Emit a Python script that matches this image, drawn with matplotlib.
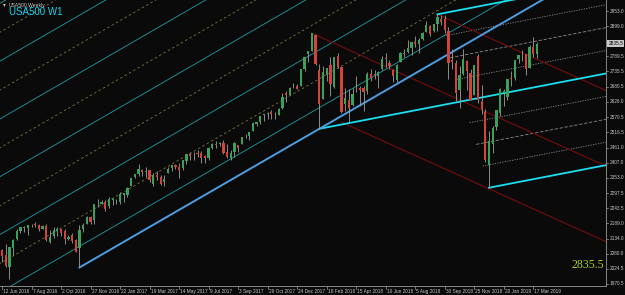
import numpy as np
import matplotlib
matplotlib.use("Agg")
import matplotlib.pyplot as plt
import matplotlib.transforms as mtransforms

# USA500 weekly bars, first bar = week of 12 Jun 2016
opens = [2092, 2075, 2030, 2100, 2131, 2162, 2173, 2173, 2183, 2186, 2183, 2170, 2180, 2120, 2143, 2163,
         2169, 2160, 2134, 2146, 2129, 2100, 2168, 2186, 2210, 2200, 2260, 2260, 2266,
         2251, 2273, 2272, 2267, 2290, 2292, 2322, 2354, 2367, 2381, 2372, 2379, 2330, 2363, 2357, 2339,
         2370, 2389, 2397, 2393, 2387, 2414, 2437, 2434, 2441, 2442, 2431, 2424, 2460, 2473, 2475, 2478,
         2444, 2425, 2447, 2470, 2475, 2502, 2503, 2521, 2548, 2555, 2578, 2583, 2588, 2580, 2580, 2603,
         2657, 2652, 2684, 2684,
         2683, 2745, 2799, 2809, 2867, 2741, 2637, 2722, 2757, 2681, 2790, 2750, 2619, 2633, 2614, 2670,
         2675, 2675, 2665, 2727, 2725, 2720, 2743, 2783, 2766, 2742, 2704, 2769, 2798, 2804, 2819, 2840,
         2835, 2853, 2876, 2898, 2880, 2906, 2925, 2926, 2882, 2775, 2767, 2670, 2726, 2773, 2730, 2650,
         2790, 2630, 2591, 2400,
         2476, 2535, 2585, 2657, 2644, 2712, 2712, 2780, 2805, 2797, 2749, 2825, 2800]
highs = [2095, 2113, 2104, 2132, 2169, 2176, 2178, 2183, 2188, 2194, 2187, 2183, 2187, 2164, 2176, 2175,
         2169, 2169, 2148, 2154, 2131, 2182, 2189, 2214, 2214, 2260, 2278, 2273, 2273,
         2282, 2279, 2277, 2301, 2299, 2319, 2351, 2368, 2401, 2385, 2390, 2382, 2370, 2378, 2361, 2361,
         2392, 2400, 2404, 2406, 2418, 2440, 2446, 2446, 2453, 2450, 2434, 2463, 2478, 2484, 2480, 2490,
         2474, 2454, 2481, 2471, 2500, 2509, 2519, 2552, 2555, 2575, 2582, 2588, 2598, 2591, 2604, 2657,
         2665, 2679, 2695, 2692,
         2743, 2787, 2810, 2873, 2870, 2763, 2755, 2747, 2789, 2787, 2802, 2753, 2675, 2672, 2675, 2718,
         2683, 2682, 2733, 2743, 2742, 2736, 2791, 2801, 2775, 2743, 2764, 2804, 2816, 2848, 2841, 2863,
         2855, 2876, 2916, 2901, 2908, 2941, 2940, 2940, 2894, 2816, 2778, 2756, 2816, 2775, 2746, 2760,
         2800, 2685, 2601, 2520,
         2538, 2597, 2675, 2672, 2709, 2738, 2776, 2795, 2814, 2797, 2830, 2860, 2840]
lows = [2050, 2032, 1988, 2074, 2128, 2155, 2159, 2148, 2175, 2175, 2160, 2167, 2127, 2119, 2137, 2145,
        2142, 2115, 2130, 2119, 2084, 2030, 2156, 2186, 2187, 2187, 2248, 2257, 2234,
        2245, 2254, 2258, 2257, 2267, 2283, 2322, 2352, 2358, 2359, 2356, 2337, 2322, 2344, 2328, 2322,
        2370, 2378, 2386, 2353, 2382, 2403, 2416, 2415, 2428, 2405, 2407, 2418, 2458, 2459, 2467, 2437,
        2424, 2417, 2429, 2446, 2475, 2496, 2488, 2520, 2540, 2547, 2557, 2566, 2566, 2566, 2577, 2601,
        2624, 2651, 2675, 2673,
        2683, 2737, 2768, 2808, 2759, 2529, 2635, 2700, 2648, 2675, 2749, 2585, 2594, 2553, 2610, 2660,
        2612, 2594, 2655, 2701, 2707, 2676, 2740, 2752, 2743, 2698, 2698, 2769, 2789, 2802, 2795, 2824,
        2802, 2848, 2876, 2864, 2876, 2880, 2903, 2874, 2710, 2744, 2628, 2603, 2721, 2670, 2631, 2649,
        2621, 2583, 2410, 2317,
        2443, 2525, 2574, 2612, 2631, 2682, 2704, 2766, 2774, 2722, 2748, 2786, 2785]
closes = [2071, 2037, 2103, 2130, 2162, 2175, 2174, 2183, 2184, 2184, 2169, 2180, 2128, 2139, 2165, 2168,
          2153, 2133, 2141, 2126, 2085, 2164, 2182, 2213, 2192, 2260, 2258, 2264, 2239,
          2277, 2275, 2272, 2295, 2297, 2316, 2351, 2367, 2383, 2373, 2378, 2344, 2363, 2355, 2329, 2349,
          2384, 2399, 2391, 2382, 2416, 2439, 2432, 2433, 2438, 2423, 2425, 2459, 2473, 2472, 2477, 2441,
          2426, 2443, 2477, 2461, 2500, 2502, 2519, 2549, 2553, 2575, 2581, 2587, 2582, 2578, 2602, 2642,
          2651, 2675, 2683, 2674,
          2743, 2786, 2810, 2873, 2762, 2620, 2732, 2747, 2691, 2786, 2752, 2588, 2641, 2604, 2656, 2670,
          2670, 2663, 2728, 2712, 2721, 2735, 2779, 2780, 2755, 2718, 2760, 2801, 2802, 2819, 2840, 2833,
          2850, 2875, 2902, 2872, 2905, 2930, 2914, 2886, 2767, 2768, 2659, 2723, 2781, 2736, 2633, 2760,
          2633, 2600, 2417, 2486,
          2532, 2596, 2671, 2665, 2707, 2708, 2776, 2793, 2804, 2743, 2822, 2800, 2835.5]

date_labels = ['12 Jun 2016', '7 Aug 2016', '2 Oct 2016', '27 Nov 2016', '22 Jan 2017', '19 Mar 2017',
               '14 May 2017', '9 Jul 2017', '3 Sep 2017', '29 Oct 2017', '24 Dec 2017', '18 Feb 2018',
               '15 Apr 2018', '10 Jun 2018', '5 Aug 2018', '30 Sep 2018', '25 Nov 2018', '20 Jan 2019',
               '17 Mar 2019']
price_ticks = [2953.0, 2899.0, 2789.5, 2735.5, 2680.5, 2626.0, 2570.5, 2516.5, 2461.0, 2407.0,
               2353.0, 2297.5, 2243.5, 2189.0, 2134.0, 2080.0, 2024.5, 1970.5]
last_price = 2835.5

# pivots (bar index, price)
election_low = (21, 2030)
jan18_high = (84, 2873)
feb18_low = (86, 2529)
mar18_low = (92, 2553)
sep18_high = (118, 2941)
dec18_low = (132, 2317)

# older channel: offsets above the blue trend line (price), solid teal / dashed olive
teal_offsets = [76, 284, 492, 700, 908, 1116]
olive_offsets = [180, 388, 596, 804, 1012]

bg = '#0a0a0a'
fig = plt.figure(figsize=(6.25, 2.95), dpi=100, facecolor=bg)
ax = fig.add_axes([0, 9 / 295, 606 / 625, 286 / 295])
ax.set_facecolor(bg)
ax.set_xlim(-0.54, 163.7)
ax.set_ylim(1963.3, 2992.6)
XEND = 170


def ray(p, k, x0=None, **kw):
    x0 = p[0] if x0 is None else x0
    y0 = p[1] + k * (x0 - p[0])
    ax.plot([x0, XEND], [y0, y0 + k * (XEND - x0)], **kw)


def pitchfork(a, b, c, color, lw, levels):
    mx, my = (b[0] + c[0]) / 2, (b[1] + c[1]) / 2
    k = (my - a[1]) / (mx - a[0])
    ray(a, k, color=color, lw=lw, zorder=3)
    ray(b, k, color=color, lw=lw, zorder=3)
    ray(c, k, color=color, lw=lw, zorder=3)
    for f, ls in levels:
        for p in (b, c):
            sx, sy = mx + f * (p[0] - mx), my + f * (p[1] - my)
            ray((sx, sy), k, color='#8a8a8a', lw=0.6, ls=ls, zorder=2)
    return k


# blue trend line (election low -> Feb 2018 low) and the older parallel channel
k_blue = (feb18_low[1] - election_low[1]) / (feb18_low[0] - election_low[0])
xs = np.array([-3, XEND])
for off in teal_offsets:
    ax.plot(xs, election_low[1] + off + k_blue * (xs - election_low[0]), color='#1b9ea4', lw=0.6, zorder=1)
for off in olive_offsets:
    ax.plot(xs, election_low[1] + off + k_blue * (xs - election_low[0]), color='#76763e', lw=0.6,
            ls=(0, (3, 3)), zorder=1)
ray(election_low, k_blue, color='#4d9de0', lw=1.4, zorder=4)

# red (down) pitchfork
pitchfork(jan18_high, sep18_high, mar18_low, '#760c0c', 0.8, [])

# cyan pitchfork with levels
pitchfork(feb18_low, sep18_high, dec18_low, '#19e0f0', 1.3,
          [(0.25, (0, (1.5, 1.5))), (0.5, (0, (4, 2))), (0.75, (0, (1.5, 1.5)))])

# candles
idx = np.arange(len(closes))
o, h, l, c = map(np.array, (opens, highs, lows, closes))
up = c >= o
ax.vlines(idx, l, h, color='#a0a0a0', lw=0.6, zorder=5)
ax.bar(idx[up], (c - o)[up], bottom=o[up], width=0.62, color='#3aa05c', zorder=6)
ax.bar(idx[~up], (o - c)[~up], bottom=c[~up], width=0.62, color='#d0443c', zorder=6)

# axes cosmetics
for s in ax.spines.values():
    s.set_visible(False)
for side in ('right', 'bottom'):
    ax.spines[side].set_visible(True)
    ax.spines[side].set_color('#9a9a9a')
    ax.spines[side].set_linewidth(0.6)
ax.set_xticks([])
ax.set_yticks([])

ty = mtransforms.blended_transform_factory(ax.transAxes, ax.transData)
tx = mtransforms.blended_transform_factory(ax.transData, ax.transAxes)
font = 'Liberation Sans'
for p in price_ticks:
    ax.text(1.006, p, f'{p:.1f}', transform=ty, fontsize=3.4, color='#c8c8c8', va='center',
            ha='left', family=font, clip_on=False)
    ax.plot([1.0, 1.004], [p, p], transform=ty, color='#9a9a9a', lw=0.5, clip_on=False)
ax.text(1.004, last_price, f'{last_price:.1f}', transform=ty, fontsize=3.4, color='#000000',
        va='center', ha='left', family=font, clip_on=False,
        bbox=dict(boxstyle='square,pad=0.25', fc='#c8c8c8', ec='none'))

for j, lab in enumerate(date_labels):
    x = j * 8
    ax.plot([x, x], [0, -0.01], transform=tx, color='#9a9a9a', lw=0.5, clip_on=False)
    ax.text(x + 0.3, -0.01, lab, transform=tx, fontsize=3.4, color='#c8c8c8', va='top', ha='left',
            family=font, clip_on=False)

fig.text(9 / 625, 1 - 5 / 295, 'USA500,Weekly', fontsize=3.6, color='#c8c8c8', va='center',
         ha='left', family=font)
fig.text(3 / 625, 1 - 5 / 295, '\u25be', fontsize=4, color='#c8c8c8', va='center', ha='left')
fig.text(9 / 625, 1 - 12 / 295, 'USA500 W1', fontsize=7, color='#14d8f0', va='center', ha='left',
         family=font)
ax.text(0.997, 0.072, f'{last_price:.1f}', transform=ax.transAxes, fontsize=8.5, color='#a8d030',
        va='center', ha='right', family='Liberation Serif')

fig.savefig('out.png', dpi=100, facecolor=bg)
